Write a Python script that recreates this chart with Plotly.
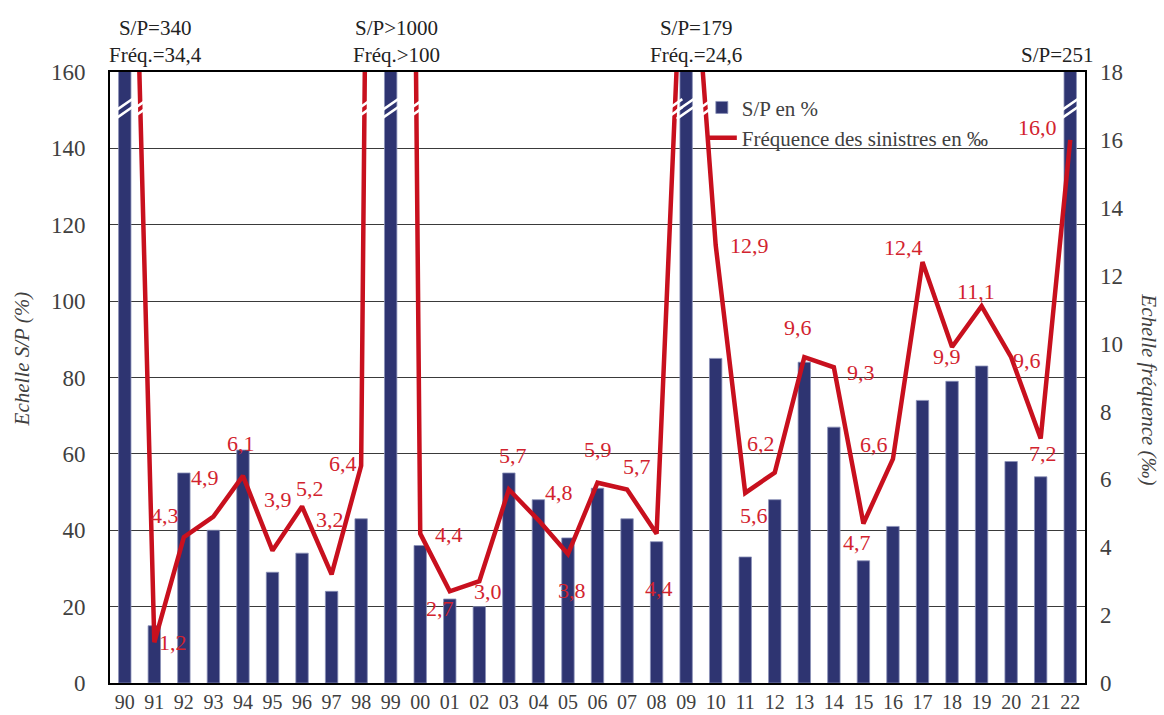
import plotly.graph_objects as go

# données
annees = ["90", "91", "92", "93", "94", "95", "96", "97", "98", "99",
          "00", "01", "02", "03", "04", "05", "06", "07", "08", "09",
          "10", "11", "12", "13", "14", "15", "16", "17", "18", "19",
          "20", "21", "22"]
sp = [340, 15, 55, 40, 61, 29, 34, 24, 43, 1000,
      36, 22, 20, 55, 48, 38, 51, 43, 37, 179,
      85, 33, 48, 84, 67, 32, 41, 74, 79, 83,
      58, 54, 251]
freq = [34.4, 1.2, 4.3, 4.9, 6.1, 3.9, 5.2, 3.2, 6.4, 100,
        4.4, 2.7, 3.0, 5.7, 4.8, 3.8, 5.9, 5.7, 4.4, 24.6,
        12.9, 5.6, 6.2, 9.6, 9.3, 4.7, 6.6, 12.4, 9.9, 11.1,
        9.6, 7.2, 16.0]
# textes au-dessus des barres coupées
hors_echelle = {"90": "S/P=340<br>Fréq.=34,4",
                "99": "S/P>1000<br>Fréq.>100",
                "09": "S/P=179<br>Fréq.=24,6",
                "22": "S/P=251"}

# décalage des étiquettes (px, vers la droite / vers le bas)
decal = {"91": (19, 0), "92": (-19, -22), "93": (-8, -39), "94": (-2, -32),
         "95": (5, -51), "96": (8, -18), "97": (-2, -55), "98": (-18, -2),
         "00": (29, 1), "01": (-10, 17), "02": (9, 10), "03": (4, -34),
         "04": (21, -28), "05": (4, 36), "06": (0, -33), "07": (10, -23),
         "08": (2, 55), "10": (34, 0), "11": (9, 23), "12": (-14, -29),
         "13": (-6, -30), "14": (27, 5), "15": (-6, 19), "16": (-19, -14),
         "17": (-19, -15), "18": (-5, 10), "19": (-6, -15), "20": (16, 3),
         "21": (2, 15), "22": (-33, -12)}
decal_haut = {"90": 31, "99": 6, "09": 10, "22": -13}

BLEU = "#2E3471"
ROUGE = "#C8101E"
ROUGE_TXT = "#D2232E"
GRIS = "#404040"
POLICE = "Liberation Serif"
YMAX, Y2MAX = 160, 18

fig = go.Figure()
fig.add_trace(go.Bar(x=annees, y=sp, name="S/P en %", width=0.42,
                     marker=dict(color=BLEU, line=dict(color="#8a90b8", width=0.8))))
fig.add_trace(go.Scatter(x=annees, y=freq, name="Fréquence des sinistres en ‰",
                         mode="lines", yaxis="y2",
                         line=dict(color=ROUGE, width=4.5)))

annots = []
for i, a in enumerate(annees):
    if a in decal:
        dx, dy = decal[a]
        annots.append(dict(x=i, y=freq[i], xref="x", yref="y2",
                           text=f"{freq[i]:.1f}".replace(".", ","),
                           showarrow=False, xshift=dx, yshift=-dy,
                           font=dict(size=22, color=ROUGE_TXT, family=POLICE)))
    if a in hors_echelle:
        annots.append(dict(x=i, y=1, xref="x", yref="paper", yanchor="bottom",
                           text=hors_echelle[a], showarrow=False,
                           xshift=decal_haut[a], yshift=3,
                           font=dict(size=21, color="#222222", family=POLICE)))

annots.append(dict(x=-0.09, y=0.53, xref="paper", yref="paper", xanchor="center",
                   text="<i>Echelle S/P (%)</i>", textangle=-90, showarrow=False,
                   font=dict(size=21, color=GRIS, family=POLICE)))
annots.append(dict(x=1.066, y=0.48, xref="paper", yref="paper", xanchor="center",
                   text="<i>Echelle fréquence (‰)</i>", textangle=90, showarrow=False,
                   font=dict(size=21, color=GRIS, family=POLICE)))

# marques de coupure (traits blancs obliques)
pente = 5.4   # unités S/P par unité de catégorie
niveau = 150.5


def coupure(xc, yc, hw):
    for off in (-1.05, 1.05):
        fig.add_shape(type="line", xref="x", yref="y",
                      x0=xc - hw, x1=xc + hw,
                      y0=yc + off - pente * hw, y1=yc + off + pente * hw,
                      line=dict(color="white", width=2.5), layer="above")


for i, v in enumerate(sp):
    if v > YMAX:
        coupure(i, niveau, 0.32)
niv_f = niveau * Y2MAX / YMAX
for i in range(len(freq) - 1):
    a, b = freq[i], freq[i + 1]
    if (a - niv_f) * (b - niv_f) < 0:
        t = (niv_f - a) / (b - a)
        coupure(i + t, niveau, 0.25)

fig.update_layout(
    width=1164, height=715,
    margin=dict(l=110, r=79, t=72, b=32),
    paper_bgcolor="white", plot_bgcolor="white",
    font=dict(family=POLICE, color=GRIS),
    showlegend=True,
    legend=dict(x=0.607, y=0.975, xanchor="left", yanchor="top",
                bgcolor="rgba(0,0,0,0)", font=dict(size=21, color=GRIS),
                itemwidth=30, tracegroupgap=0),
    annotations=annots,
    xaxis=dict(type="category", range=[-0.5, 32.5], showgrid=False,
               showline=True, linecolor="black", linewidth=2, mirror=True,
               ticks="", tickfont=dict(size=20, color=GRIS),
               ticklabelstandoff=0, automargin=False),
    yaxis=dict(range=[0, YMAX], dtick=20, showgrid=True, gridcolor="#3a3a3a",
               gridwidth=1, showline=True, linecolor="black", linewidth=2,
               mirror=True, ticks="", zeroline=False, automargin=False,
               tickfont=dict(size=23, color=GRIS), ticklabelstandoff=18),
    yaxis2=dict(range=[0, Y2MAX], dtick=2, overlaying="y", side="right",
                showgrid=False, showline=False, ticks="", zeroline=False,
                automargin=False,
                tickfont=dict(size=23, color=GRIS), ticklabelstandoff=14),
)

fig.write_html("out.html", config={"displayModeBar": False},
               post_script="document.body.style.margin='0px';")
